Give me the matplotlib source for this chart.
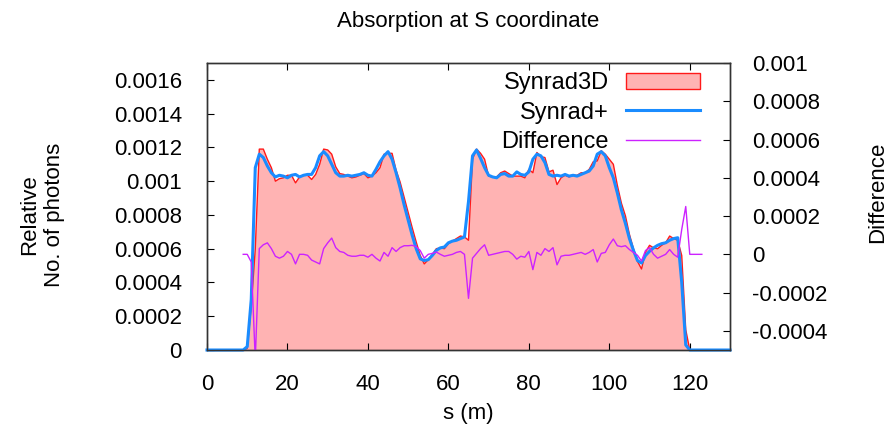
import numpy as np
import matplotlib
matplotlib.use("Agg")
import matplotlib.pyplot as plt
from matplotlib.patches import Patch
from matplotlib.lines import Line2D

plt.rcParams['font.family'] = ['Liberation Sans', 'DejaVu Sans']
plt.rcParams['font.size'] = 16

# ---- data (values in units of 1e-4) ----
s_main = [0] + list(range(9, 121)) + [130]

synrad_plus = [0,
    0, 0.2, 3.0, 10.8, 11.6, 11.4, 10.9, 10.5, 10.25, 10.35,
    10.3, 10.2, 10.35, 10.4, 10.25, 10.35, 10.4, 10.4, 10.8, 11.5,
    11.75, 11.5, 11.0, 10.5, 10.3, 10.3, 10.35, 10.3, 10.35, 10.4,
    10.5, 10.35, 10.3, 10.7, 11.15, 11.5, 11.75, 11.3, 10.5, 9.6,
    8.6, 7.7, 6.8, 6.0, 5.4, 5.3, 5.35, 5.6, 5.9, 6.05,
    6.1, 6.35, 6.45, 6.5, 6.6, 6.7, 8.8, 11.5, 11.85, 11.35,
    10.8, 10.35, 10.25, 10.2, 10.4, 10.45, 10.3, 10.3, 10.55, 10.4,
    10.35, 10.55, 11.3, 11.6, 11.5, 11.1, 10.4, 10.3, 10.35, 10.3,
    10.4, 10.3, 10.35, 10.3, 10.4, 10.5, 10.6, 10.9, 11.6, 11.75,
    11.5, 10.8, 10.2, 9.3, 8.3, 7.5, 6.6, 5.9, 5.3, 5.15,
    5.6, 5.85, 6.05, 6.2, 6.3, 6.35, 6.5, 6.6, 6.65, 4.0,
    0.3, 0,
    0]

synrad3d = [0,
    0, 0.1, 2.6, 6.0, 11.9, 11.9, 11.3, 10.8, 10.0, 10.15,
    10.2, 10.35, 10.35, 9.9, 10.25, 10.35, 10.35, 10.1, 10.4, 11.0,
    11.9, 11.85, 11.6, 10.85, 10.45, 10.4, 10.3, 10.2, 10.25, 10.35,
    10.45, 10.2, 10.3, 10.5, 10.8, 11.6, 11.65, 11.65, 10.65, 9.95,
    9.05, 8.15, 7.25, 6.4, 5.6, 5.1, 5.35, 5.65, 6.0, 6.05,
    6.0, 6.3, 6.45, 6.6, 6.75, 6.7, 6.5, 11.3, 11.9, 11.65,
    11.3, 10.3, 10.25, 10.25, 10.5, 10.6, 10.45, 10.3, 10.3, 10.3,
    10.2, 10.7, 10.5, 11.7, 11.45, 11.4, 10.55, 10.65, 9.8, 10.2,
    10.35, 10.25, 10.35, 10.35, 10.5, 10.5, 10.7, 11.15, 11.2, 11.8,
    11.6, 11.3, 11.0, 9.75, 8.7, 7.95, 6.85, 6.0, 5.25, 4.8,
    5.8, 6.2, 6.05, 6.0, 6.2, 6.35, 6.75, 6.6, 6.5, 5.6,
    1.2, 0,
    0]

s_diff = list(range(9, 124))
difference = [
    0, 0, -0.4, -5.5, 0.3, 0.5, 0.6, 0.3, -0.1, -0.2,
    -0.1, 0.15, 0.0, -0.5, 0.0, 0.0, -0.05, -0.3, -0.4, -0.5,
    0.3, 0.6, 0.85, 0.35, 0.15, 0.1, -0.05, -0.1, -0.1, -0.05,
    -0.05, -0.15, 0.0, -0.2, -0.35, 0.1, -0.1, 0.35, 0.15, 0.35,
    0.45, 0.45, 0.47, 0.4, 0.2, -0.2, 0.0, 0.05, 0.12, 0.0,
    -0.1, -0.05, 0.0, 0.1, 0.15, 0.0, -2.3, -0.2, 0.05, 0.3,
    0.5, -0.05, 0.0, 0.05, 0.1, 0.15, 0.15, 0.0, -0.25, -0.1,
    -0.15, 0.15, -0.8, 0.1, -0.05, 0.3, 0.15, 0.35, -0.55, -0.1,
    -0.05, -0.05, 0.0, 0.05, 0.1, 0.0, 0.1, 0.25, -0.4, 0.05,
    0.1, 0.5, 0.8, 0.45, 0.4, 0.45, 0.25, 0.1, -0.05, -0.35,
    0.2, 0.35, 0.0, -0.2, -0.1, 0.0, 0.25, 0.0, -0.15, 1.3,
    2.5, 0.0, 0.0, 0.0, 0.0]

x_ticks = [0, 20, 40, 60, 80, 100, 120]
y_ticks = [0, 0.0002, 0.0004, 0.0006, 0.0008, 0.001, 0.0012, 0.0014, 0.0016]
y_ticklabels = ['0', '0.0002', '0.0004', '0.0006', '0.0008', '0.001', '0.0012', '0.0014', '0.0016']
y2_ticks = [-0.0004, -0.0002, 0, 0.0002, 0.0004, 0.0006, 0.0008, 0.001]
y2_ticklabels = ['-0.0004', '-0.0002', '0', '0.0002', '0.0004', '0.0006', '0.0008', '0.001']

scale = 1e-4
sm = np.array(s_main)
s3 = np.array(synrad3d) * scale
sp = np.array(synrad_plus) * scale
sd = np.array(s_diff)
dv = np.array(difference) * scale

PINK = '#ffb3b3'
RED = '#ff1a1a'
BLUE = '#1a8cff'
PURPLE = '#cc22ff'
FS = 16

fig = plt.figure(figsize=(8.91, 4.40), dpi=100)
ax = fig.add_axes([207/891, 1-350/440, 523/891, 287/440])
ax2 = ax.twinx()

ax.fill_between(sm, 0, s3, facecolor=PINK, edgecolor='none', zorder=1)
ax.plot(sm, s3, color=RED, lw=1.0, zorder=2)
ax.plot(sm, sp, color=BLUE, lw=2.2, zorder=3, clip_on=False)
ax2.plot(sd, dv, color=PURPLE, lw=1.0)

ax.set_xlim(0, 130)
ax.set_ylim(0, 0.0017)
ax2.set_ylim(-0.0005, 0.001)

ax.set_xticks(x_ticks)
ax.set_xticklabels([str(v) for v in x_ticks])
ax.set_yticks(y_ticks)
ax.set_yticklabels(y_ticklabels)
ax2.set_yticks(y2_ticks)
ax2.set_yticklabels(y2_ticklabels)

ax.tick_params(axis='x', direction='in', top=True, bottom=True, length=5, pad=17, labelsize=FS)
ax.tick_params(axis='y', direction='in', left=True, right=False, length=5, pad=18, labelsize=FS)
ax2.tick_params(axis='y', direction='in', right=True, length=5, pad=16, labelsize=FS)
for a in (ax, ax2):
    for sp_ in a.spines.values():
        sp_.set_color('#333333')
        sp_.set_linewidth(1.0)

ax.set_title('Absorption at S coordinate', fontsize=FS, pad=26)
ax.set_xlabel('s (m)', fontsize=FS, labelpad=6)
ax.set_ylabel('Relative\nNo. of photons', fontsize=FS, linespacing=1.25)
ax.yaxis.set_label_coords(-0.272, 0.47)
ax2.set_ylabel('Difference', fontsize=FS)
ax2.yaxis.set_label_coords(1.262, 0.55)

handles = [Patch(facecolor=PINK, edgecolor=RED, lw=1.0),
           Line2D([], [], color=BLUE, lw=2.2),
           Line2D([], [], color=PURPLE, lw=1.0)]
labels = ['Synrad3D', 'Synrad+', 'Difference']
leg = ax2.legend(handles, labels, loc='upper right', bbox_to_anchor=(0.96, 1.0),
                 borderaxespad=0, frameon=False, markerfirst=False,
                 handlelength=3.1, handletextpad=0.75, labelspacing=0.3,
                 handleheight=0.65, fontsize=17)
for col in leg._legend_handle_box.get_children():
    col.align = 'right'

fig.savefig('out.png', dpi=100)
